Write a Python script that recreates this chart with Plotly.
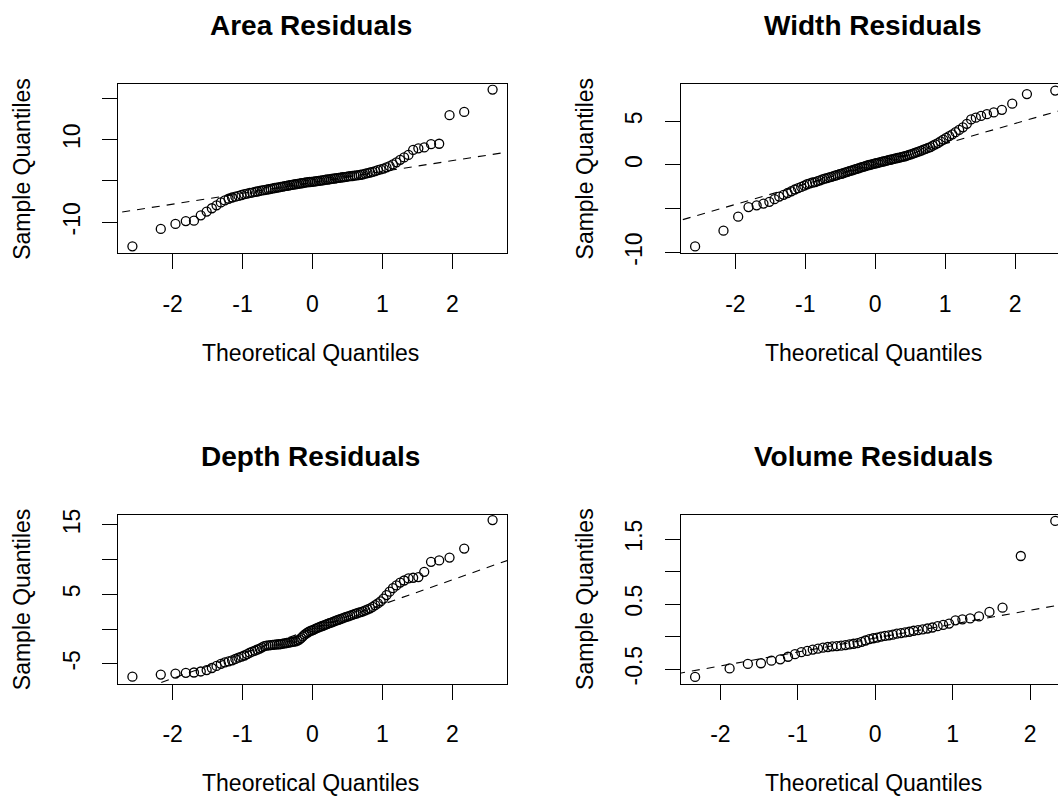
import numpy as np
import plotly.graph_objects as go
from statistics import NormalDist

titles = ["Area Residuals", "Width Residuals", "Depth Residuals", "Volume Residuals"]

area = [-15.8, -11.6, -10.4, -9.7, -9.6, -8.3, -7.4, -6.6, -5.9, -5.2,
        -4.7, -4.3, -4.0, -3.8, -3.6, -3.4, -3.2, -3.05, -2.9, -2.8,
        -2.65, -2.55, -2.4, -2.3, -2.2, -2.1, -2.0, -1.9, -1.8, -1.7,
        -1.6, -1.55, -1.45, -1.35, -1.25, -1.2, -1.1, -1.0, -0.95, -0.85,
        -0.8, -0.7, -0.65, -0.55, -0.5, -0.4, -0.35, -0.3, -0.25, -0.2,
        -0.15, -0.1, -0.05, 0.0, 0.1, 0.15, 0.2, 0.3, 0.35, 0.4,
        0.5, 0.55, 0.6, 0.7, 0.75, 0.8, 0.9, 0.95, 1.0, 1.1,
        1.15, 1.2, 1.3, 1.35, 1.4, 1.5, 1.6, 1.75, 1.9, 2.05,
        2.2, 2.4, 2.6, 2.8, 3.0, 3.3, 3.6, 4.0, 4.5, 5.1,
        5.7, 6.3, 7.5, 7.9, 8.1, 8.9, 9.0, 15.9, 16.7, 22.1]

width = [-9.3, -7.5, -5.9, -4.8, -4.6, -4.4, -4.2, -3.9, -3.6, -3.4,
         -3.2, -3.0, -2.8, -2.65, -2.5, -2.35, -2.2, -2.1, -2.0, -1.95,
         -1.85, -1.75, -1.65, -1.55, -1.5, -1.42, -1.35, -1.28, -1.2, -1.13,
         -1.05, -1.0, -0.92, -0.85, -0.78, -0.7, -0.65, -0.58, -0.5, -0.45,
         -0.38, -0.3, -0.25, -0.18, -0.12, -0.05, 0.0, 0.05, 0.1, 0.15,
         0.2, 0.25, 0.3, 0.35, 0.4, 0.45, 0.5, 0.55, 0.6, 0.65,
         0.7, 0.75, 0.8, 0.85, 0.9, 0.95, 1.0, 1.08, 1.15, 1.22,
         1.3, 1.38, 1.46, 1.55, 1.65, 1.75, 1.85, 1.95, 2.05, 2.2,
         2.35, 2.5, 2.7, 2.9, 3.1, 3.3, 3.5, 3.75, 4.0, 4.3,
         4.7, 5.2, 5.4, 5.6, 5.8, 6.0, 6.3, 7.0, 8.1, 8.5]

depth = [-6.85, -6.55, -6.4, -6.3, -6.25, -6.1, -5.9, -5.6, -5.3, -5.0,
         -4.8, -4.65, -4.5, -4.3, -4.1, -3.95, -3.8, -3.6, -3.4, -3.25,
         -3.1, -2.95, -2.8, -2.62, -2.45, -2.37, -2.33, -2.3, -2.27, -2.24,
         -2.21, -2.18, -2.15, -2.1, -2.05, -2.0, -1.95, -1.9, -1.85, -1.8,
         -1.75, -1.65, -1.5, -1.3, -1.05, -0.8, -0.6, -0.45, -0.3, -0.2,
         -0.1, 0.05, 0.15, 0.25, 0.35, 0.45, 0.55, 0.65, 0.75, 0.85,
         0.95, 1.05, 1.15, 1.25, 1.35, 1.45, 1.55, 1.65, 1.75, 1.85,
         1.95, 2.05, 2.15, 2.25, 2.38, 2.45, 2.55, 2.7, 2.85, 3.0,
         3.2, 3.45, 3.7, 4.0, 4.4, 4.9, 5.4, 5.9, 6.3, 6.7,
         7.0, 7.3, 7.4, 7.5, 8.25, 9.7, 9.9, 10.3, 11.6, 15.7]

volume = [-0.62, -0.49, -0.42, -0.41, -0.37, -0.35, -0.31, -0.27, -0.24, -0.22,
          -0.2, -0.185, -0.17, -0.16, -0.15, -0.145, -0.14, -0.13, -0.12, -0.11,
          -0.1, -0.08, -0.06, -0.04, -0.025, -0.015, 0.0, 0.01, 0.02, 0.03,
          0.045, 0.055, 0.065, 0.075, 0.09, 0.1, 0.11, 0.125, 0.14, 0.16,
          0.18, 0.2, 0.25, 0.265, 0.28, 0.31, 0.38, 0.445, 1.24, 1.78]

series = [area, width, depth, volume]

x_tick_vals = [-2, -1, 0, 1, 2]
x_tick_text = ["-2", "-1", "0", "1", "2"]
y_tick_vals = [[-10, 0, 10, 20], [-10, -5, 0, 5], [-5, 0, 5, 10, 15], [-0.5, 0, 0.5, 1.0, 1.5]]
y_tick_text = [["-10", "", "10", ""], ["-10", "", "0", "5"], ["-5", "", "5", "", "15"],
               ["-0.5", "", "0.5", "", "1.5"]]
y_ranges = [[-17.45, 23.35], [-10.06, 9.2], [-7.84, 16.46], [-0.722, 1.873]]

# target geometry in reference pixels (1058 x 796)
W, H = 1058, 796
FIG_H = 809  # the photographed viewport is a little taller than 796
box_w = 389.0
col_left = [118.0, 680.7]
row_top = [79.0, 512.7]
box_h = 170.0

FONT = "Liberation Sans, Arial, Helvetica, sans-serif"
nd = NormalDist()

fig = go.Figure()
annotations = []

for k in range(4):
    r, c = divmod(k, 2)
    y = np.sort(np.array(series[k], dtype=float))
    n = len(y)
    a = 0.375 if n <= 10 else 0.5
    p = (np.arange(1, n + 1) - a) / (n + 1 - 2 * a)
    x = np.array([nd.inv_cdf(v) for v in p])

    # qqline through the quartiles
    yq = np.quantile(y, [0.25, 0.75])
    xq = np.array([nd.inv_cdf(0.25), nd.inv_cdf(0.75)])
    slope = (yq[1] - yq[0]) / (xq[1] - xq[0])
    inter = yq[0] - slope * xq[0]

    xmin, xmax = x.min(), x.max()
    ext = 0.04 * (xmax - xmin)
    xr0, xr1 = xmin - ext, xmax + ext
    left = col_left[c]
    right = min(left + box_w, W)
    xr1_vis = xr0 + (right - left) / box_w * (xr1 - xr0)

    ax = "" if k == 0 else str(k + 1)
    lx = np.array([xr0 - 1, xr1 + 1])
    fig.add_trace(go.Scatter(
        x=lx, y=inter + slope * lx, mode="lines", xaxis="x" + ax, yaxis="y" + ax,
        line=dict(color="black", width=1.1, dash="8px,7px"),
        showlegend=False, hoverinfo="skip"))
    fig.add_trace(go.Scatter(
        x=x, y=y, mode="markers", xaxis="x" + ax, yaxis="y" + ax,
        marker=dict(symbol="circle-open", size=9, color="black", line=dict(width=1.3, color="black")),
        showlegend=False, hoverinfo="skip"))

    top = row_top[r]
    bottom = top + box_h
    xd = [left / W, right / W]
    yd = [1 - bottom / H, 1 - top / H]
    common = dict(showgrid=False, zeroline=False, showline=True, linecolor="black", linewidth=1.2,
                  ticks="outside", ticklen=15, tickwidth=1.2, tickcolor="black",
                  tickfont=dict(family=FONT, size=23, color="black"))
    fig.update_layout(**{
        "xaxis" + ax: dict(domain=xd, range=[xr0, xr1_vis], anchor="y" + ax,
                           tickvals=x_tick_vals, ticktext=x_tick_text, mirror=True,
                           ticklabelstandoff=15, **common),
        "yaxis" + ax: dict(domain=yd, range=y_ranges[k], anchor="x" + ax,
                           tickvals=y_tick_vals[k], ticktext=y_tick_text[k],
                           tickangle=-90, mirror=(c == 0), ticklabelstandoff=13, **common),
    })

    cx = (left + left + box_w) / 2 - 2
    annotations.append(dict(text="<b>" + titles[k] + "</b>", x=cx / W, y=1 - (top - 59) / H,
                            xref="paper", yref="paper", showarrow=False, xanchor="center",
                            yanchor="middle", font=dict(family=FONT, size=28, color="black")))
    annotations.append(dict(text="Theoretical Quantiles", x=cx / W, y=1 - (top + 270.5) / H,
                            xref="paper", yref="paper", showarrow=False, xanchor="center",
                            yanchor="middle", font=dict(family=FONT, size=23, color="black")))
    annotations.append(dict(text="Sample Quantiles", x=(left - 96) / W, y=1 - (top + box_h / 2) / H,
                            xref="paper", yref="paper", showarrow=False, xanchor="center",
                            yanchor="middle", textangle=-90,
                            font=dict(family=FONT, size=23, color="black")))

fig.update_layout(width=W, height=FIG_H, margin=dict(l=0, r=0, t=0, b=0),
                  paper_bgcolor="white", plot_bgcolor="white", annotations=annotations)

fig.write_html("out.html")
